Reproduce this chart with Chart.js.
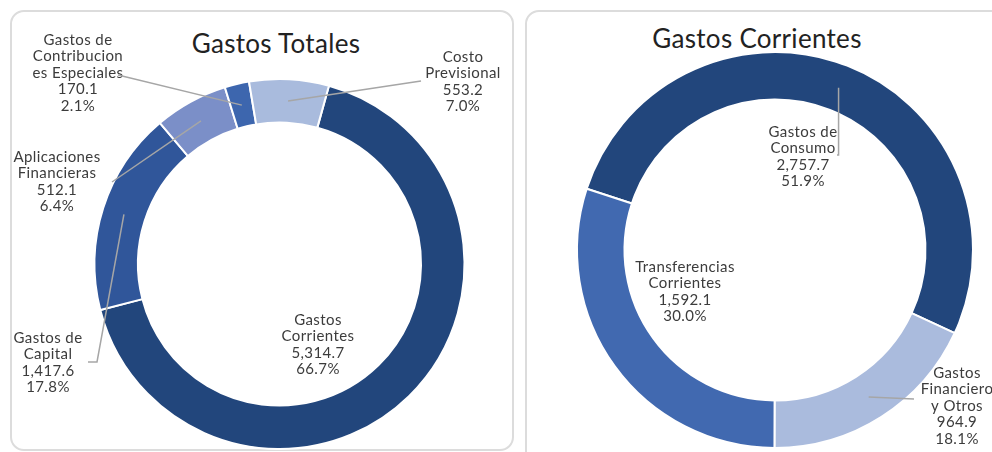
<!DOCTYPE html>
<html>
<head>
<meta charset="utf-8">
<script src="https://cdn.jsdelivr.net/npm/chart.js@4/dist/chart.umd.min.js"></script>
<style>
  body { margin: 0; background: #fff; width: 992px; height: 452px; overflow: hidden; position: relative; font-family: Lato, sans-serif; }
  .panel { position: absolute; top: 10px; border: 2px solid #dcdcdc; border-radius: 14px; box-sizing: border-box; }
  #panelTotales { left: 10px; width: 504px; height: 441px; }
  #panelCorrientes { left: 525px; width: 490px; height: 470px; }
  .title { position: absolute; font-size: 26px; color: #222; white-space: nowrap; transform: translateX(-50%); letter-spacing: 0.3px; }
  canvas { position: absolute; top: 10px; }
</style>
</head>
<body>
<div class="panel" id="panelTotales"></div>
<div class="panel" id="panelCorrientes"></div>
<div class="title" style="left:276px; top:27px;">Gastos Totales</div>
<div class="title" style="left:757px; top:22px;">Gastos Corrientes</div>
<canvas id="totalesChart" width="503" height="442" style="left:10px"></canvas>
<canvas id="corrientesChart" width="467" height="442" style="left:525px"></canvas>
<script>
// Gastos Totales
const totalesLabels = [
    ['Gastos', 'Corrientes'],
    ['Gastos de', 'Capital'],
    ['Aplicaciones', 'Financieras'],
    ['Gastos de', 'Contribucion', 'es Especiales'],
    ['Costo', 'Previsional']
];
const totalesValues = [5314.7, 1417.6, 512.1, 170.1, 553.2];
const totalesPct = [66.7, 17.8, 6.4, 2.1, 7.0];
const totalesColors = ['#22467c', '#30569a', '#7b8fc8', '#3d66ae', '#a9bbdd'];

// Gastos Corrientes
const corrientesLabels = [
    ['Gastos de', 'Consumo'],
    ['Gastos', 'Financiero', 'y Otros'],
    ['Transferencias', 'Corrientes']
];
const corrientesValues = [2757.7, 964.9, 1592.1];
const corrientesPct = [51.9, 18.1, 30.0];
const corrientesColors = ['#22467c', '#aabbdd', '#4169b0'];

const fmt = v => v.toLocaleString('en-US', { minimumFractionDigits: 1, maximumFractionDigits: 1 });

// draws the data labels and their leader lines
const sliceLabels = {
    id: 'sliceLabels',
    afterDatasetsDraw(chart, args, opts) {
        const ctx = chart.ctx;
        const arcs = chart.getDatasetMeta(0).data;
        ctx.save();
        ctx.font = '15px Lato, sans-serif';
        ctx.letterSpacing = '0.4px';
        ctx.fillStyle = '#3c3c3c';
        ctx.textAlign = 'center';
        ctx.textBaseline = 'middle';
        ctx.strokeStyle = '#a6a6a6';
        ctx.lineWidth = 1.5;
        opts.items.forEach((it, i) => {
            const lines = [...chart.data.labels[i], fmt(opts.values[i]), opts.pct[i].toFixed(1) + '%'];
            lines.forEach((t, k) => ctx.fillText(t, it.x, it.y + k * 16.5));
            if (!it.leader) return;
            const p = arcs[i].getProps(['x', 'y', 'startAngle', 'endAngle', 'innerRadius', 'outerRadius'], true);
            const mid = (p.startAngle + p.endAngle) / 2;
            const r = (p.innerRadius + p.outerRadius) / 2;
            const ax = p.x + Math.cos(mid) * r;
            const ay = p.y + Math.sin(mid) * r;
            ctx.beginPath();
            ctx.moveTo(it.leader[0][0], it.leader[0][1]);
            it.leader.slice(1).forEach(pt => ctx.lineTo(pt[0], pt[1]));
            if (it.vertical) ctx.lineTo(ax, it.leader[0][1]);
            ctx.lineTo(ax, ay);
            ctx.stroke();
        });
        ctx.restore();
    }
};

function makeDoughnut(id, labels, values, pct, colors, rotation, cutout, padding, items) {
    new Chart(document.getElementById(id), {
        type: 'doughnut',
        data: {
            labels: labels,
            datasets: [{
                data: values,
                backgroundColor: colors,
                borderColor: '#ffffff',
                borderWidth: 2
            }]
        },
        options: {
            responsive: false,
            animation: false,
            rotation: rotation,
            cutout: cutout,
            layout: { padding: padding },
            plugins: {
                legend: { display: false },
                tooltip: { enabled: false },
                sliceLabels: { items: items, values: values, pct: pct }
            }
        },
        plugins: [sliceLabels]
    });
}

makeDoughnut('totalesChart', totalesLabels, totalesValues, totalesPct, totalesColors, 15.5, '76.5%',
    { left: 81.5, top: 68, right: 45.5, bottom: 2 },
    [
        { x: 308, y: 310 },
        { x: 38, y: 328, leader: [[78, 352], [87, 352]] },
        { x: 47, y: 147, leader: [[102, 172]] },
        { x: 68, y: 30, leader: [[108, 65]] },
        { x: 453, y: 47, leader: [[411, 71]] }
    ]);

makeDoughnut('corrientesChart', corrientesLabels, corrientesValues, corrientesPct, corrientesColors, -72, '76%',
    { left: 49, top: 41, right: 16, bottom: 3 },
    [
        { x: 278, y: 122, leader: [[312, 145]], vertical: true },
        { x: 432, y: 363, leader: [[389, 389]] },
        { x: 160, y: 257 }
    ]);
</script>
</body>
</html>
